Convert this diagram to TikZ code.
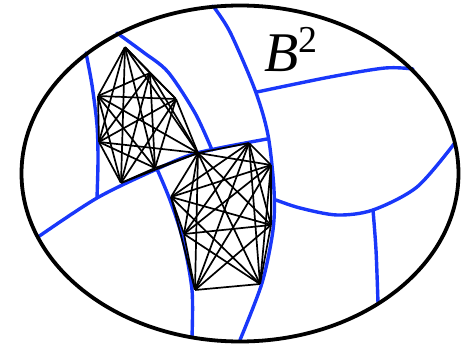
\documentclass[tikz,border=0pt]{standalone}
\usepackage{fontspec}
\setmainfont{Liberation Serif}
\usepackage{tikz}

\definecolor{geoblue}{RGB}{25,55,250}

\begin{document}
\begin{tikzpicture}[
  x=1pt, y=-1pt,
  rim/.style={line width=3.8pt},
  geo/.style={draw=geoblue, line width=3.4pt, line cap=round},
  vtx/.style={inner sep=0pt, minimum size=0pt},
  kedge/.style={line width=1.7pt}
]
\useasboundingbox (0,0) rectangle (461,345);

% geodesics
\draw[geo] plot[smooth] coordinates {(86,53) (92,85) (97,125) (98,160) (97,198)};
\draw[geo] plot[smooth] coordinates {(38,237) (97,198) (157,169) (197,153) (267,139)};
\draw[geo] plot[smooth] coordinates {(117,33) (143,52) (168,72) (195,113) (212,150)};
\draw[geo] plot[smooth] coordinates {(213,6) (230,32) (255,90) (268,135) (274,190) (273,230) (262,283) (240,340)};
\draw[geo] plot[smooth] coordinates {(157,169) (170,200) (183,240) (192,290) (192,337)};
\draw[geo] plot[smooth] coordinates {(257,92) (330,77) (385,68) (413,69)};
\draw[geo] plot[smooth] coordinates {(276,200) (300,208) (337,215) (373,210) (417,187) (454,144)};
\draw[geo] plot[smooth] coordinates {(373,210) (376,250) (378,303)};

% first clique
\node[vtx] (a1) at (125,47) {};
\node[vtx] (a2) at (150,73) {};
\node[vtx] (a3) at (98,96) {};
\node[vtx] (a4) at (176,99) {};
\node[vtx] (a5) at (99,142) {};
\node[vtx] (a6) at (198,153) {};
\node[vtx] (a7) at (155,168) {};
\node[vtx] (a8) at (121,183) {};

% second clique
\node[vtx] (b1) at (a6) {};
\node[vtx] (b2) at (249,143) {};
\node[vtx] (b3) at (271,165) {};
\node[vtx] (b4) at (171,197) {};
\node[vtx] (b5) at (271,225) {};
\node[vtx] (b6) at (184,234) {};
\node[vtx] (b7) at (195,290) {};
\node[vtx] (b8) at (260,284) {};

\foreach \g in {a,b}
  \foreach \i [evaluate=\i as \k using int(\i+1)] in {1,...,7}
    \foreach \j in {\k,...,8}
      \draw[kedge] (\g\i) -- (\g\j);

\draw[rim] (240,173.5) ellipse [x radius=218.5, y radius=168];

\node[vtx, anchor=base west] (lbl) at (264,72)
  {\fontsize{56}{60}\selectfont\textit{B}\raisebox{19pt}{\fontsize{38}{40}\selectfont 2}};
\end{tikzpicture}
\end{document}
